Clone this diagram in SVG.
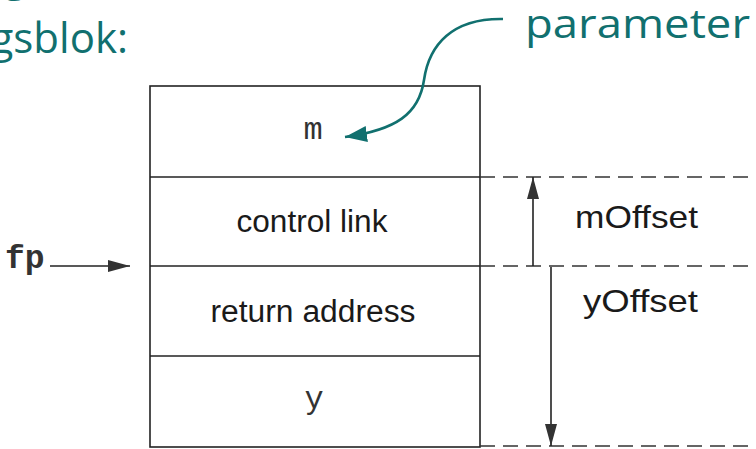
<svg xmlns="http://www.w3.org/2000/svg" width="756" height="449" viewBox="0 0 756 449">
  <defs>
    <style>
      .box { fill: none; stroke: #222; stroke-width: 1.6; }
      .div { stroke: #222; stroke-width: 1.4; }
      .dash { stroke: #333; stroke-width: 1.5; stroke-dasharray: 15 8; }
      .lbl { font-family: "Liberation Sans", Arial, sans-serif; fill: #1a1a1a; }
      .mono { font-family: "Liberation Mono", "Courier New", monospace; fill: #333; }
      .teal { font-family: "Open Sans", "DejaVu Sans", sans-serif; font-weight: 500; fill: #11706f; }
      .arr { stroke: #222; stroke-width: 1.6; fill: none; }
    </style>
    <marker id="head" markerUnits="userSpaceOnUse" markerWidth="24" markerHeight="14" refX="22" refY="6" orient="auto">
      <path d="M0,0 L22,6 L0,12 Z" fill="#333"/>
    </marker>
    <marker id="tealhead" markerUnits="userSpaceOnUse" markerWidth="24" markerHeight="18" refX="22" refY="8" orient="auto">
      <path d="M0,0 L22,8 L0,16 Z" fill="#11706f"/>
    </marker>
  </defs>

  <rect width="756" height="449" fill="#ffffff"/>

  <!-- heading fragments -->
  <g id="heading">
    <text class="teal" x="4" y="-9" font-size="42">g</text>
    <text class="teal" x="128" y="53" font-size="42" text-anchor="end">gsblok:</text>
    <text class="teal" x="525" y="38" font-size="41" textLength="225" lengthAdjust="spacingAndGlyphs">parameter</text>
  </g>

  <!-- stack frame cells -->
  <g id="frame">
    <rect class="box" x="150" y="86" width="330" height="361"/>
  </g>
  <g id="cell-m">
    <text class="mono" x="313" y="139" font-size="32" text-anchor="middle">m</text>
  </g>
  <g id="cell-control-link">
    <line class="div" x1="150" y1="177" x2="480" y2="177"/>
    <text class="lbl" x="312" y="232" font-size="31" text-anchor="middle" textLength="151" lengthAdjust="spacingAndGlyphs">control link</text>
  </g>
  <g id="cell-return-address">
    <line class="div" x1="150" y1="266" x2="480" y2="266"/>
    <text class="lbl" x="313" y="322" font-size="31" text-anchor="middle" textLength="205" lengthAdjust="spacingAndGlyphs">return address</text>
  </g>
  <g id="cell-y">
    <line class="div" x1="150" y1="356" x2="480" y2="356"/>
    <text class="mono" x="314" y="408" font-size="32" text-anchor="middle">y</text>
  </g>

  <!-- fp label -->
  <g id="fp">
    <text class="mono" x="5" y="268" font-size="33" font-weight="bold" fill="#222">fp</text>
  </g>

  <!-- offset labels -->
  <g id="mOffset">
    <text class="lbl" x="575" y="228" font-size="32" textLength="123" lengthAdjust="spacingAndGlyphs">mOffset</text>
  </g>
  <g id="yOffset">
    <text class="lbl" x="583" y="312" font-size="32" textLength="115" lengthAdjust="spacingAndGlyphs">yOffset</text>
  </g>

  <!-- connectors -->
  <g id="connectors">
    <line class="dash" x1="480" y1="177" x2="756" y2="177"/>
    <line class="dash" x1="480" y1="266" x2="756" y2="266"/>
    <line class="dash" x1="480" y1="446" x2="756" y2="446"/>
    <line class="arr" x1="533" y1="266" x2="533" y2="177" marker-end="url(#head)"/>
    <line class="arr" x1="551" y1="267" x2="551" y2="446" marker-end="url(#head)"/>
    <line class="arr" x1="50" y1="266" x2="130" y2="266" marker-end="url(#head)"/>
    <path d="M503,19 C452,18 429,45 424,80 C419,114 396,130 345,137" fill="none" stroke="#11706f" stroke-width="2.6" marker-end="url(#tealhead)"/>
  </g>
</svg>
